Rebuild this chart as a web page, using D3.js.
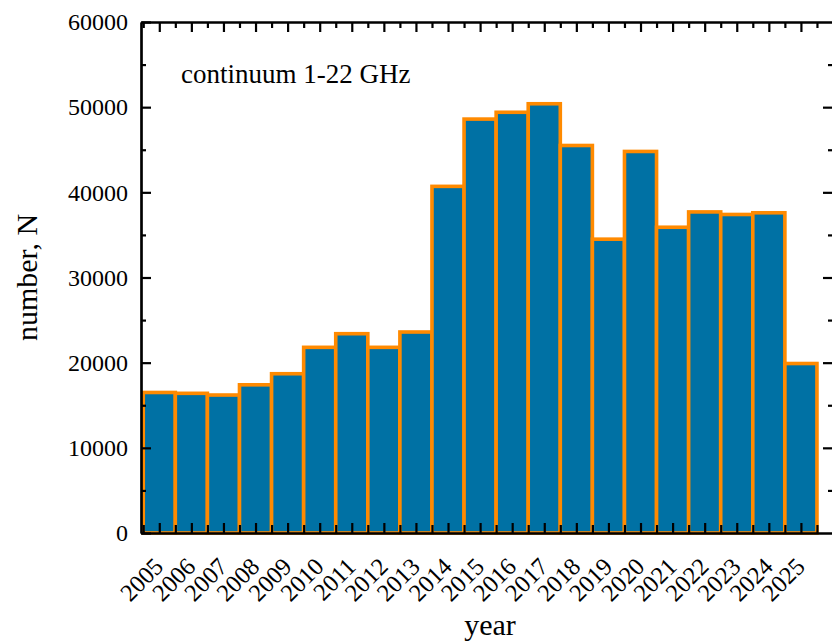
<!DOCTYPE html>
<html>
<head>
<meta charset="utf-8">
<script src="https://d3js.org/d3.v7.min.js"></script>
<style>
  body { margin: 0; background: #fff; }
  text { font-family: "Liberation Serif", "Times New Roman", serif; fill: #000; }
</style>
</head>
<body>
<svg width="832" height="644"></svg>
<script>
// data
var years = [2005, 2006, 2007, 2008, 2009, 2010, 2011, 2012, 2013, 2014, 2015,
             2016, 2017, 2018, 2019, 2020, 2021, 2022, 2023, 2024, 2025];
var counts = [16500, 16400, 16200, 17400, 18700, 21800, 23400, 21800, 23600, 40700, 48600,
              49400, 50400, 45500, 34500, 44800, 35900, 37700, 37400, 37600, 19900];
var yTicks = [0, 10000, 20000, 30000, 40000, 50000, 60000];
var yMinor = [5000, 15000, 25000, 35000, 45000, 55000];
var title = "continuum 1-22 GHz";

var svg = d3.select("svg");
var pLeft = 141, pRight = 833, pTop = 22, pBottom = 533;

var x = d3.scaleLinear().domain([2004.43, 2026]).range([pLeft, pRight]);
var y = d3.scaleLinear().domain([0, 60000]).range([pBottom, pTop]);
var bw = x(2006) - x(2005);

// bars
svg.append("g")
  .selectAll("rect")
  .data(years)
  .enter().append("rect")
    .attr("x", function(d) { return x(d) - bw / 2; })
    .attr("y", function(d, i) { return y(counts[i]); })
    .attr("width", bw)
    .attr("height", function(d, i) { return y(0) - y(counts[i]); })
    .attr("fill", "#0071a4")
    .attr("stroke", "#ff8a00")
    .attr("stroke-width", 3.6);

var edges = years.map(function(d) { return d - 0.5; }).concat([2025.5]);

function styleAxis(g) {
  g.select(".domain").attr("stroke", "#000").attr("stroke-width", 2.2);
  g.selectAll(".tick line").attr("stroke", "#000").attr("stroke-width", 2.2);
  g.selectAll("text").attr("font-family", "Liberation Serif, serif");
}

// left axis
svg.append("g")
    .attr("transform", "translate(" + pLeft + ",0)")
    .call(d3.axisLeft(y).tickValues(yMinor).tickSize(-5).tickFormat("").tickSizeOuter(0))
    .call(styleAxis);
svg.append("g")
    .attr("transform", "translate(" + pLeft + ",0)")
    .call(d3.axisLeft(y).tickValues(yTicks).tickSize(-10).tickPadding(13)
      .tickFormat(d3.format("d")).tickSizeOuter(0))
    .call(styleAxis)
    .selectAll("text").attr("font-size", 24);

// right axis (ticks only, line is just off the page)
svg.append("g")
    .attr("transform", "translate(" + pRight + ",0)")
    .call(d3.axisRight(y).tickValues(yMinor).tickSize(-5).tickFormat("").tickSizeOuter(0))
    .call(styleAxis);
svg.append("g")
    .attr("transform", "translate(" + pRight + ",0)")
    .call(d3.axisRight(y).tickValues(yTicks.slice(1, -1)).tickSize(-10).tickFormat("").tickSizeOuter(0))
    .call(styleAxis);

// top axis
svg.append("g")
    .attr("transform", "translate(0," + pTop + ")")
    .call(d3.axisTop(x).tickValues(edges).tickSize(-6).tickFormat("").tickSizeOuter(0))
    .call(styleAxis);
svg.append("g")
    .attr("transform", "translate(0," + pTop + ")")
    .call(d3.axisTop(x).tickValues(years).tickSize(-10).tickFormat("").tickSizeOuter(0))
    .call(styleAxis);

// bottom axis
svg.append("g")
    .attr("transform", "translate(0," + pBottom + ")")
    .call(d3.axisBottom(x).tickValues(edges).tickSize(-8).tickFormat("").tickSizeOuter(0))
    .call(styleAxis);
var xAxis = svg.append("g")
    .attr("transform", "translate(0," + pBottom + ")")
    .call(d3.axisBottom(x).tickValues(years).tickSize(-10).tickFormat(d3.format("d")).tickSizeOuter(0))
    .call(styleAxis);
xAxis.selectAll("text")
    .attr("font-size", 24.5)
    .attr("text-anchor", "end")
    .attr("y", 0).attr("dy", 0)
    .attr("transform", "translate(5,35) rotate(-45)");

// labels
svg.append("text")
    .attr("transform", "translate(37," + (pTop + pBottom) / 2 + ") rotate(-90)")
    .attr("text-anchor", "middle")
    .attr("font-size", 30)
    .text("number, N");

svg.append("text")
    .attr("x", 490)
    .attr("y", 635)
    .attr("text-anchor", "middle")
    .attr("font-size", 30)
    .text("year");

svg.append("text")
    .attr("x", 181)
    .attr("y", 83)
    .attr("font-size", 27)
    .text(title);
</script>
</body>
</html>
